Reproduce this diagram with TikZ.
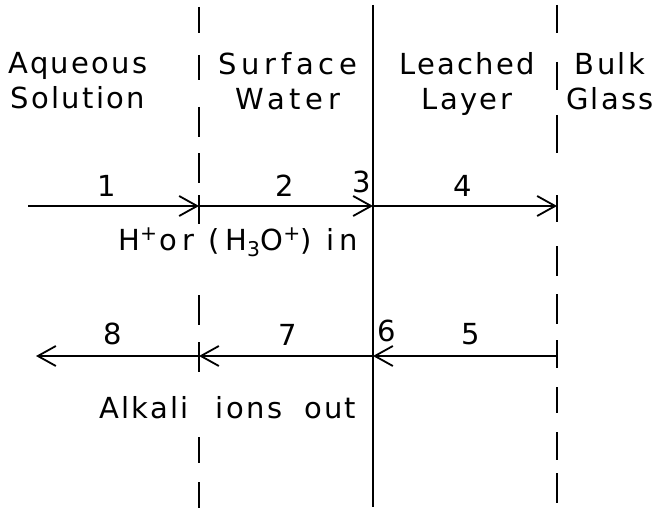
\documentclass[tikz,border=0pt]{standalone}
\usepackage{fontspec}
\setmainfont{DejaVu Sans}[LetterSpace=8]
\usetikzlibrary{positioning,arrows.meta}

\begin{document}
\begin{tikzpicture}[
  x=1pt, y=-1pt,
  font=\fontsize{29}{35}\selectfont,
  hdr/.style={align=center, anchor=north, inner sep=0pt},
  wide/.style={font=\fontsize{29}{35}\selectfont\addfontfeature{LetterSpace=#1}},
  num/.style={inner sep=0pt},
  bound/.style={line width=2.2pt},
  arr/.style={-{Straight Barb[length=18pt, width=20pt]}, line width=1.8pt},
]
\useasboundingbox (0,0) rectangle (662,511);
% phase boundaries
\draw[bound] (373,5) -- (373,507);
\foreach \a/\b in {7/33,55/80,107/137,153/183,195/224,295/325,342/372,437/463,482/508}
  \draw[bound] (199,\a) -- (199,\b);
\foreach \a/\b in {5/33,62/90,115/153,195/222,246/276,294/324,340/368,387/413,432/460,473/503}
  \draw[bound] (557,\a) -- (557,\b);
% regions
\node[hdr] (aqueous) at (78,52) {Aqueous\\Solution};
\node[hdr, wide=16] (surface) at (288,52) {Surface\\Water};
\node[hdr] (leached) at (467,52) {Leached\\Layer};
\node[hdr] (bulk) at (610,52) {Bulk\\Glass};
% crossing points
\coordinate (in0) at (28,206);
\coordinate (in1) at (199,206);
\coordinate (in2) at (373,206);
\coordinate (in3) at (557,206);
\coordinate (out0) at (36,356);
\coordinate (out1) at (199,356);
\coordinate (out2) at (373,356);
\coordinate (out3) at (557,356);
% inward
\draw[arr] (in0) -- node[num, pos=0.46, above=9pt] (n1) {1} (in1);
\draw[arr] (in1) -- node[num, pos=0.49, above=9pt] (n2) {2} (in2);
\draw[arr] (in2) -- node[num, pos=0.49, above=9pt] (n4) {4} (in3);
\node[num, above left=13pt and 2pt of in2] (n3) {3};
\node[anchor=base west, inner sep=0pt, wide=18] (hin) at (118,250)
  {H\textsuperscript{+}\kern2pt or (H\textsubscript{3}O\textsuperscript{+}) in};
% outward
\draw[arr] (out3) -- node[num, pos=0.47, above=10pt] (n5) {5} (out2);
\draw[arr] (out2) -- node[num, pos=0.49, above=10pt] (n7) {7} (out1);
\draw[arr] (out1) -- node[num, pos=0.53, above=10pt] (n8) {8} (out0);
\node[num, above right=14pt and 4pt of out2] (n6) {6};
\node[anchor=base west, inner sep=0pt] (aout) at (99,418)
  {Alkali\hspace{27pt}ions\hspace{22pt}out};
\end{tikzpicture}
\end{document}
